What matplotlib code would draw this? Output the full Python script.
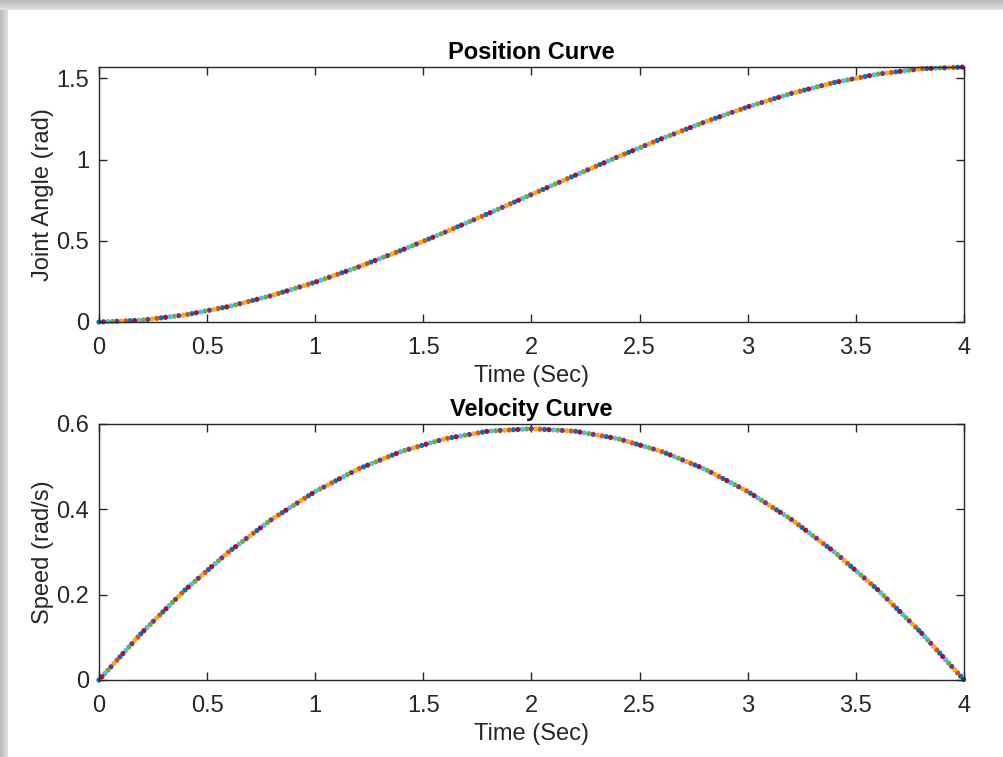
import matplotlib
matplotlib.use("Agg")
import matplotlib.pyplot as plt
from matplotlib.patches import Rectangle

time_sec = [0.0, 0.2, 0.4, 0.6, 0.8, 1.0, 1.2, 1.4, 1.6, 1.8, 2.0,
            2.2, 2.4, 2.6, 2.8, 3.0, 3.2, 3.4, 3.6, 3.8, 4.0]
joint_angle = [0.0, 0.0114, 0.0440, 0.0954, 0.1634, 0.2454, 0.3393, 0.4426,
               0.5529, 0.6680, 0.7854, 0.9028, 1.0179, 1.1282, 1.2315, 1.3253,
               1.4074, 1.4753, 1.5268, 1.5594, 1.5708]
speed = [0.0, 0.1119, 0.2121, 0.3004, 0.3770, 0.4418, 0.4948, 0.5360,
         0.5655, 0.5832, 0.5890, 0.5832, 0.5655, 0.5360, 0.4948, 0.4418,
         0.3770, 0.3004, 0.2121, 0.1119, 0.0]

x_ticks = [0, 0.5, 1, 1.5, 2, 2.5, 3, 3.5, 4]
x_labels = ["0", "0.5", "1", "1.5", "2", "2.5", "3", "3.5", "4"]
pos_ticks = [0, 0.5, 1, 1.5]
pos_labels = ["0", "0.5", "1", "1.5"]
vel_ticks = [0, 0.2, 0.4, 0.6]
vel_labels = ["0", "0.2", "0.4", "0.6"]

matlab_colors = ["#0072BD", "#D95319", "#EDB120", "#7E2F8E",
                 "#77AC30", "#4DBEEE", "#A2142F"]

plt.rcParams["font.family"] = ["Liberation Sans", "DejaVu Sans"]
plt.rcParams["lines.scale_dashes"] = False

fig = plt.figure(figsize=(10.04, 7.57), dpi=100)
fig.patch.set_facecolor("white")

# window shadow on top and left edges
shades = ["#bcbcbc", "#c4c4c4", "#cccccc", "#d4d4d4", "#dcdcdc"]
for i, c in enumerate(shades):
    fig.patches.append(Rectangle((0, 1 - (i + 1) * 2 / 757), 1, 2 / 757,
                                 transform=fig.transFigure, facecolor=c,
                                 edgecolor="none", zorder=-1))
    fig.patches.append(Rectangle((i * 1.6 / 1004, 0), 1.6 / 1004, 1 - 10 / 757,
                                 transform=fig.transFigure, facecolor=c,
                                 edgecolor="none", zorder=-1))

ax1 = fig.add_axes([99 / 1004, 435 / 757, 865 / 1004, 255 / 757])
ax2 = fig.add_axes([99 / 1004, 77 / 757, 865 / 1004, 256 / 757])

fs = 17
dot = 3.2
period = dot * len(matlab_colors)


def dotted_curve(ax, x, y):
    for k, c in enumerate(matlab_colors):
        ax.plot(x, y, color=c, lw=3.8, dash_capstyle="round",
                linestyle=(k * dot, (0.01, period - 0.01)), clip_on=False)


def style(ax, yticks, ylabels):
    ax.set_xlim(0, 4)
    ax.set_xticks(x_ticks)
    ax.set_xticklabels(x_labels)
    ax.set_yticks(yticks)
    ax.set_yticklabels(ylabels)
    ax.tick_params(direction="in", length=6, width=1, top=True, right=True,
                   labelsize=fs, colors="#262626")
    ax.tick_params(axis="x", pad=11)
    ax.tick_params(axis="y", pad=7)
    for s in ax.spines.values():
        s.set_color("#262626")
        s.set_linewidth(1.0)


dotted_curve(ax1, time_sec, joint_angle)
style(ax1, pos_ticks, pos_labels)
ax1.set_ylim(0, 1.5708)
ax1.set_title("Position Curve", fontsize=fs, fontweight="bold", pad=6)
ax1.set_xlabel("Time (Sec)", fontsize=fs, color="#262626", labelpad=4)
ax1.set_ylabel("Joint Angle (rad)", fontsize=fs, color="#262626", labelpad=2)

dotted_curve(ax2, time_sec, speed)
style(ax2, vel_ticks, vel_labels)
ax2.set_ylim(0, 0.6)
ax2.set_title("Velocity Curve", fontsize=fs, fontweight="bold", pad=6)
ax2.set_xlabel("Time (Sec)", fontsize=fs, color="#262626", labelpad=4)
ax2.set_ylabel("Speed (rad/s)", fontsize=fs, color="#262626", labelpad=2)

fig.savefig("out.png", dpi=100)
